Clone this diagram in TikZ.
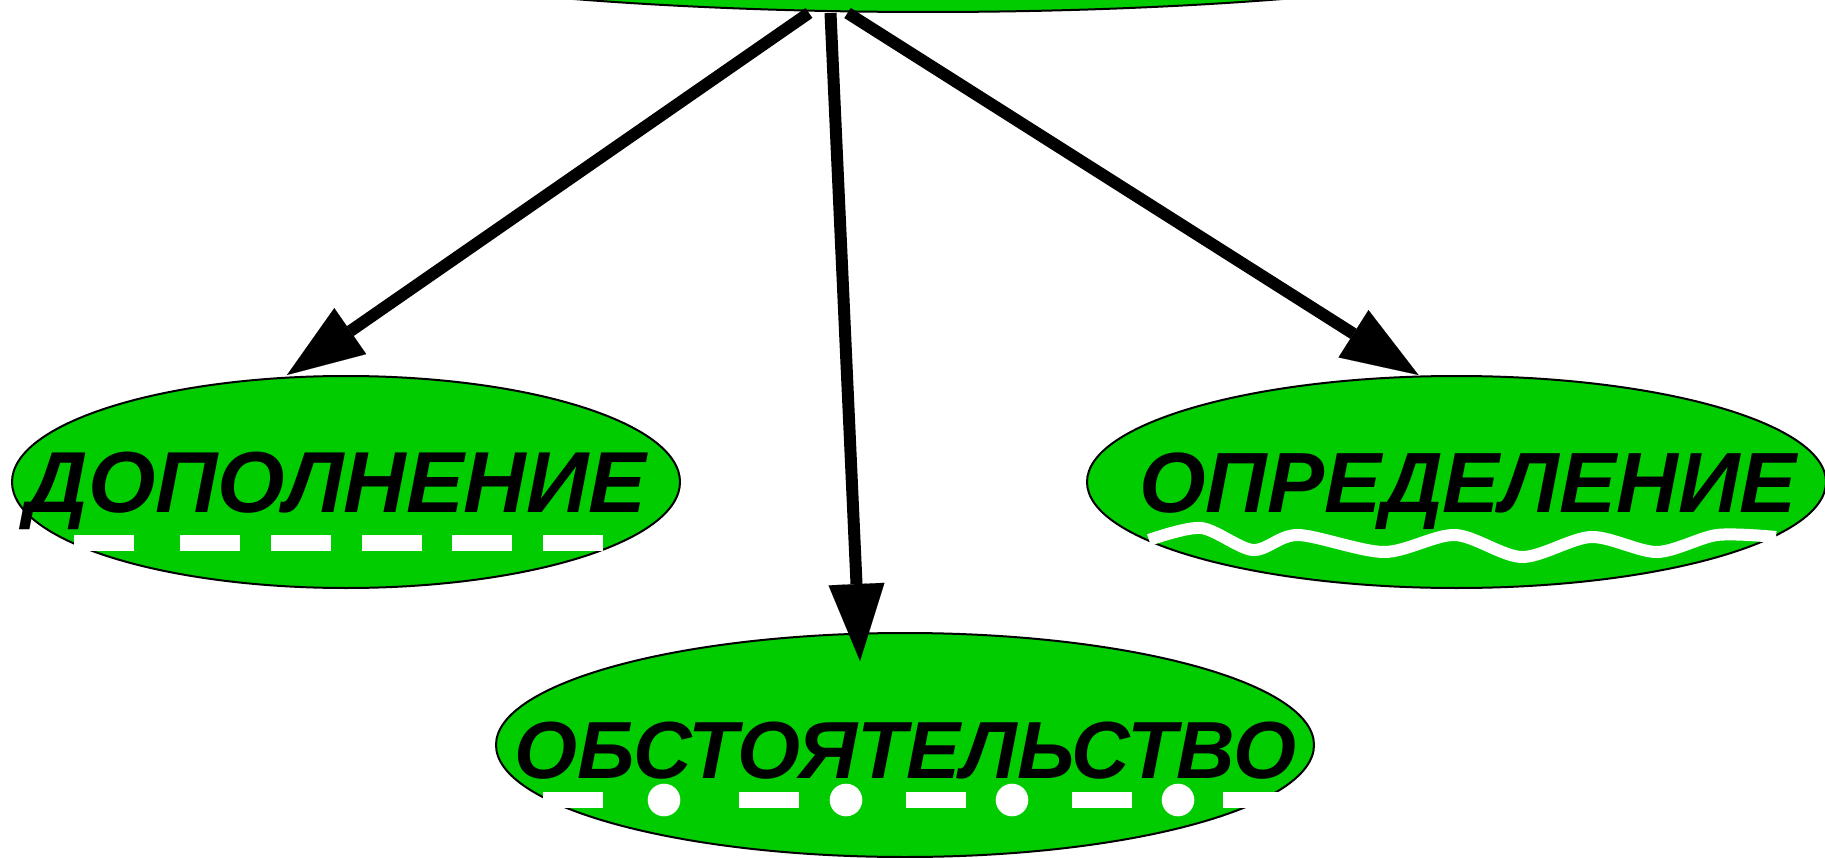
\documentclass[tikz,border=0pt]{standalone}
\usepackage{fontspec}
\setmainfont{Liberation Sans}
\usetikzlibrary{arrows.meta,shapes.geometric}
\definecolor{leafgreen}{HTML}{00CC00}

\begin{document}
\begin{tikzpicture}[x=1pt,y=-1pt,
  oval/.style={ellipse, draw=black, line width=2pt, fill=leafgreen, inner sep=0pt},
  word/.style={font=\fontsize{86.6pt}{90pt}\selectfont\bfseries\itshape, anchor=base, inner sep=0pt},
  link/.style={line width=12pt, -{Triangle[length=77pt,width=56pt,line width=0.1pt]}},
  underl/.style={fill=white}]
\useasboundingbox (0,0) rectangle (1825,858);
% ellipses
\node[oval, minimum width=1502pt, minimum height=220pt] (root) at (928,-98) {};
\node[oval, minimum width=668pt, minimum height=212pt] (dop) at (346,482) {};
\node[oval, minimum width=739pt, minimum height=212pt] (opr) at (1456.5,482) {};
\node[oval, minimum width=818pt, minimum height=224pt] (obst) at (905,745) {};
% underlines
\foreach \x in {74,180,271,362,452,543}
  \fill[underl] (\x,535) rectangle ++(60,16);
\draw[white, line width=12pt] plot[smooth] coordinates {(1149,540) (1201,528) (1253,550)
  (1298,535) (1384,552) (1455,535) (1522,557) (1591,537) (1657,552) (1717,535) (1776,537)};
\foreach \x in {543,739,906,1072,1223}
  \fill[underl] (\x,792) rectangle ++(60,15.5);
\foreach \x in {664,846,1012,1178}
  \fill[underl] (\x,800) circle (16.3);
% words
\node[word] (dop-w) at (336,512) {ДОПОЛНЕНИЕ};
\node[word, font=\fontsize{85.5pt}{90pt}\selectfont\bfseries\itshape] (opr-w) at (1468,512) {ОПРЕДЕЛЕНИЕ};
\node[word, font=\fontsize{81pt}{85pt}\selectfont\bfseries\itshape] (obst-w) at (905,778) {ОБСТОЯТЕЛЬСТВО};
% arrows
\draw[link] ([xshift=-119pt]root.south) -- ([xshift=-59pt]dop.north);
\draw[link] ([xshift=-97.5pt]root.south) -- ([xshift=-45pt,yshift=-29pt]obst.north);
\draw[link] ([xshift=-80.5pt]root.south) -- ([xshift=-38pt]opr.north);
\end{tikzpicture}
\end{document}
